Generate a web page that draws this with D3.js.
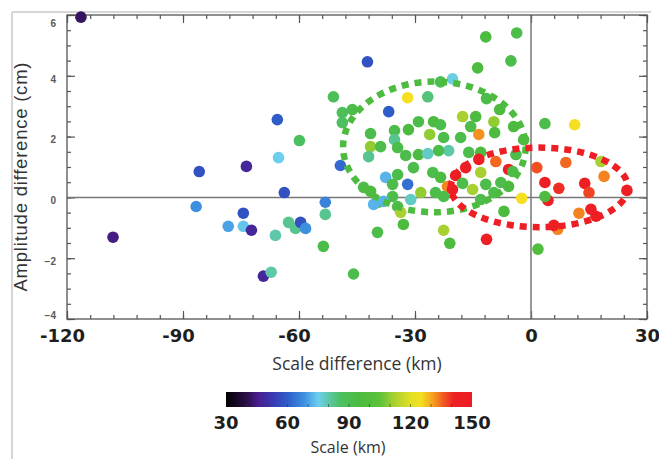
<!DOCTYPE html>
<html>
<head>
<meta charset="utf-8">
<script src="https://cdn.jsdelivr.net/npm/d3@7"></script>
<style>
  body { margin: 0; background: #fff; }
  svg { display: block; }
</style>
</head>
<body>
<div id="plot"></div>
<script>
// scale difference (km), amplitude difference (cm) and scale (km) of each point
var scaleDiff = [-116.4, -65.6, -59.9, -65.3, -51.1, -85.8, -73.6, -63.8, -53.2, -53.2,
  -53.7, -86.6, -74.4, -78.3, -74.4, -72.3, -108.1, -62.7, -60.9, -59.6,
  -58.3, -66.1, -69.2, -67.2, -42.3, -11.7, -3.7, -5.2, -13.8, -20.3,
  -23.4, -31.9, -26.7, -36.8, -11.5, -48.8, -48.8, -46.2, -17.7, -14.3,
  -9.6, -29.1, -25.2, -23.4, -4.5, -8.1, -31.7, -35.3, -26.2, -22.6,
  -41.5, -13.5, -9.4, -18.2, -15.6, -1.9, -41.5, -38.9, -35.3, -34.5,
  -21.3, -42.0, -32.4, -29.1, -26.7, -23.9, -16.1, -13.0, -3.9, -49.3,
  -30.4, -25.4, -23.4, -34.5, -37.6, -31.9, -35.8, -43.3, -41.5, -16.9,
  -13.5, -9.1, -13.0, -19.5, -17.7, -21.6, -20.3, -15.1, -11.7, -28.5,
  -24.7, -22.6, -35.8, -39.4, -40.7, -34.5, -31.1, -38.1, -33.7, -33.0,
  -39.7, -45.9, -22.6, -21.0, -11.5, -7.0, 1.8, -2.4, 4.4, 3.6,
  3.6, 11.3, 1.5, 9.0, 18.1, 18.9, 3.6, 7.2, 13.9, 15.0,
  24.8, 12.4, 15.5, 16.8, 6.9, 5.9, -5.8, -4.7, -9.6, -7.8,
  -5.8, -13.0]
var ampDiff = [5.93, 2.56, 1.87, 1.31, 3.31, 0.85, 1.02, 0.16, -0.16, -0.56,
  -1.61, -0.30, -0.52, -0.95, -0.95, -1.08, -1.31, -0.82, -1.02, -0.82,
  -1.02, -1.25, -2.59, -2.46, 4.46, 5.28, 5.41, 4.49, 4.26, 3.90,
  3.80, 3.28, 3.31, 2.82, 3.25, 2.79, 2.46, 2.89, 2.66, 2.66,
  2.49, 2.49, 2.49, 2.39, 2.33, 2.89, 2.23, 2.20, 2.07, 1.97,
  2.10, 2.07, 2.13, 1.97, 2.33, 1.90, 1.67, 1.67, 1.90, 1.64,
  1.54, 1.34, 1.38, 1.41, 1.44, 1.54, 1.48, 1.48, 1.41, 1.05,
  0.98, 0.82, 0.66, 0.75, 0.66, 0.43, 0.43, 0.33, 0.20, 0.98,
  1.25, 1.18, 0.82, 0.72, 0.46, 0.36, 0.26, 0.26, 0.43, 0.16,
  0.16, 0.03, 0.03, -0.16, -0.23, -0.30, -0.07, -0.13, -0.49, -0.89,
  -1.15, -2.52, -1.08, -1.51, -1.38, -0.46, -1.70, -0.03, -0.10, 0.03,
  2.43, 2.39, 0.98, 1.15, 1.18, 0.69, 0.49, 0.30, 0.46, 0.16,
  0.23, -0.52, -0.39, -0.62, -1.05, -0.92, 0.92, 0.85, 0.16, 0.49,
  0.36, -0.07]
var scaleKm = [42, 60, 86, 75, 88, 58, 48, 58, 66, 82,
  92, 68, 58, 70, 74, 48, 45, 82, 82, 58,
  68, 80, 48, 80, 58, 95, 92, 92, 95, 76,
  90, 125, 84, 60, 92, 88, 86, 92, 112, 95,
  110, 92, 95, 92, 95, 95, 95, 92, 110, 92,
  92, 132, 95, 92, 92, 95, 110, 92, 82, 92,
  80, 82, 92, 95, 78, 92, 92, 95, 92, 62,
  92, 92, 95, 92, 72, 63, 92, 92, 95, 145,
  145, 135, 112, 145, 92, 133, 145, 112, 92, 110,
  92, 92, 92, 92, 72, 92, 78, 72, 112, 95,
  92, 92, 112, 95, 145, 95, 98, 125, 145, 95,
  92, 125, 137, 135, 112, 133, 145, 140, 145, 138,
  145, 133, 145, 145, 133, 145, 145, 92, 92, 92,
  95, 92]

// axis ticks
var xTicks = [-120, -90, -60, -30, 0, 30]
var yTicks = [-4, -2, 0, 2, 4, 6]
var cbTicks = [30, 60, 90, 120, 150]

// colour table (black to red rainbow)
var cStops = [30, 40, 46, 52, 60, 68, 75, 80, 86, 95, 105, 112, 120, 125, 131, 136, 141, 150]
var cColors = ["#000000", "#2b0f4a", "#4a1f90", "#3a35b0", "#2f5cc8", "#3d90e0", "#6ccfee",
  "#5ec8a8", "#4cc060", "#4cbb3f", "#5cc23a", "#a8d030", "#e0e024", "#f4e021",
  "#f5a01e", "#f15a22", "#ed2224", "#ed1c24"]

// dotted ellipses: centre, radii
var ellX = [-25.0, 2.15]
var ellY = [1.66, 0.33]
var ellRx = [23.6, 22.9]
var ellRy = [2.15, 1.31]
var ellColor = ["#4cbb3f", "#ed1f24"]

var svgWidth = 659
var svgHeight = 459

var margin = {top: 15, right: 12, bottom: 140, left: 67}
var width = 580
var height = 304

var svg = d3.select("#plot")
  .append("svg")
  .attr("width", svgWidth)
  .attr("height", svgHeight)

// light figure border
svg.append("line").attr("x1", 12).attr("x2", 651).attr("y1", 12).attr("y2", 12)
  .attr("stroke", "#d6d6d6").attr("stroke-width", 2)
svg.append("line").attr("x1", 12).attr("x2", 12).attr("y1", 12).attr("y2", svgHeight)
  .attr("stroke", "#d6d6d6").attr("stroke-width", 2)

var chartGroup = svg.append("g")
  .attr("transform", `translate(${margin.left}, ${margin.top})`)

var xScale = d3.scaleLinear().domain([-120, 30]).range([0, width])
var yScale = d3.scaleLinear().domain([-4, 6]).range([height, 0])
var color = d3.scaleLinear().domain(cStops).range(cColors)

// minor ticks, all four sides, pointing inwards
var xMinor = d3.range(-120, 31, 6)
var yMinor = d3.range(-4, 6.01, 0.5)

function styleAxis(g) {
  g.select(".domain").remove()
  g.selectAll(".tick line").attr("stroke", "#555").attr("stroke-width", 1.2)
}

chartGroup.append("g").attr("transform", `translate(0, ${height})`)
  .call(d3.axisBottom(xScale).tickValues(xMinor).tickSize(-4).tickFormat(""))
  .call(styleAxis)
chartGroup.append("g")
  .call(d3.axisTop(xScale).tickValues(xMinor).tickSize(-4).tickFormat(""))
  .call(styleAxis)
chartGroup.append("g")
  .call(d3.axisLeft(yScale).tickValues(yMinor).tickSize(-4).tickFormat(""))
  .call(styleAxis)
chartGroup.append("g").attr("transform", `translate(${width}, 0)`)
  .call(d3.axisRight(yScale).tickValues(yMinor).tickSize(-4).tickFormat(""))
  .call(styleAxis)

// major ticks
var bottomAxis = d3.axisBottom(xScale).tickValues(xTicks).tickSize(-8).tickPadding(10)
  .tickFormat(d => d)
var bottomG = chartGroup.append("g").attr("transform", `translate(0, ${height})`)
  .call(bottomAxis).call(styleAxis)
bottomG.selectAll("text")
  .attr("font-family", "DejaVu Sans").attr("font-weight", "bold").attr("font-size", 18)
  .attr("fill", "#1e1e1e")
  .attr("dx", d => d < 0 ? -5 : 0)

chartGroup.append("g")
  .call(d3.axisTop(xScale).tickValues(xTicks).tickSize(-8).tickFormat(""))
  .call(styleAxis)

var leftG = chartGroup.append("g")
  .call(d3.axisLeft(yScale).tickValues(yTicks).tickSize(-8).tickPadding(11))
  .call(styleAxis)
leftG.selectAll("text")
  .attr("font-family", "Liberation Sans").attr("font-weight", "bold").attr("font-size", 10)
  .attr("fill", "#5a5a5a")
  .attr("y", d => d === 6 ? 8 : (d === -4 ? -4 : 3))

chartGroup.append("g").attr("transform", `translate(${width}, 0)`)
  .call(d3.axisRight(yScale).tickValues(yTicks).tickSize(-8).tickFormat(""))
  .call(styleAxis)

// zero lines
chartGroup.append("line")
  .attr("x1", 0).attr("x2", width)
  .attr("y1", yScale(0)).attr("y2", yScale(0))
  .attr("stroke", "#777").attr("stroke-width", 1.5)
chartGroup.append("line")
  .attr("x1", xScale(0)).attr("x2", xScale(0))
  .attr("y1", 0).attr("y2", height)
  .attr("stroke", "#777").attr("stroke-width", 1.5)

// frame
chartGroup.append("rect")
  .attr("width", width).attr("height", height)
  .attr("fill", "none").attr("stroke", "#555").attr("stroke-width", 1.3)

// points
chartGroup.selectAll("circle")
  .data(scaleDiff)
  .enter()
  .append("circle")
  .attr("cx", d => xScale(d))
  .attr("cy", (d, i) => yScale(ampDiff[i]))
  .attr("r", 5.8)
  .attr("fill", (d, i) => color(scaleKm[i]))

// dotted ellipses
chartGroup.selectAll("ellipse")
  .data(ellX)
  .enter()
  .append("ellipse")
  .attr("cx", d => xScale(d))
  .attr("cy", (d, i) => yScale(ellY[i]))
  .attr("rx", (d, i) => xScale(d + ellRx[i]) - xScale(d))
  .attr("ry", (d, i) => yScale(ellY[i] - ellRy[i]) - yScale(ellY[i]))
  .attr("fill", "none")
  .attr("stroke", (d, i) => ellColor[i])
  .attr("stroke-width", 6.5)
  .attr("stroke-dasharray", "7,6")

// axis titles
svg.append("text")
  .attr("transform", "translate(27, 177) rotate(-90)")
  .attr("text-anchor", "middle")
  .attr("font-family", "Liberation Sans")
  .attr("font-size", 18.5)
  .attr("fill", "#333")
  .attr("textLength", 229)
  .text("Amplitude difference (cm)")

svg.append("text")
  .attr("x", margin.left + width / 2)
  .attr("y", 370)
  .attr("text-anchor", "middle")
  .attr("font-family", "Open Sans")
  .attr("font-size", 17.5)
  .attr("fill", "#333")
  .text("Scale difference (km)")

// colour bar
var cbScale = d3.scaleLinear().domain([30, 150]).range([226, 472])
var grad = svg.append("defs").append("linearGradient")
  .attr("id", "cbar")
grad.selectAll("stop")
  .data(cStops)
  .enter()
  .append("stop")
  .attr("offset", d => (d - 30) / 120)
  .attr("stop-color", (d, i) => cColors[i])

svg.append("rect")
  .attr("x", cbScale(30)).attr("y", 392)
  .attr("width", cbScale(150) - cbScale(30)).attr("height", 15)
  .attr("fill", "url(#cbar)")

svg.selectAll(".cbtick")
  .data(d3.range(40, 150, 10))
  .enter()
  .append("line")
  .attr("class", "cbtick")
  .attr("x1", d => cbScale(d)).attr("x2", d => cbScale(d))
  .attr("y1", 404).attr("y2", 407)
  .attr("stroke", "#333").attr("stroke-opacity", 0.6)

svg.selectAll(".cblabel")
  .data(cbTicks)
  .enter()
  .append("text")
  .attr("class", "cblabel")
  .attr("x", d => cbScale(d))
  .attr("y", 429)
  .attr("text-anchor", "middle")
  .attr("font-family", "DejaVu Sans").attr("font-weight", "bold").attr("font-size", 18)
  .attr("fill", "#1e1e1e")
  .text(d => d)

svg.append("text")
  .attr("x", 348)
  .attr("y", 453)
  .attr("text-anchor", "middle")
  .attr("font-family", "Open Sans")
  .attr("font-size", 16)
  .attr("fill", "#333")
  .text("Scale (km)")
</script>
</body>
</html>
